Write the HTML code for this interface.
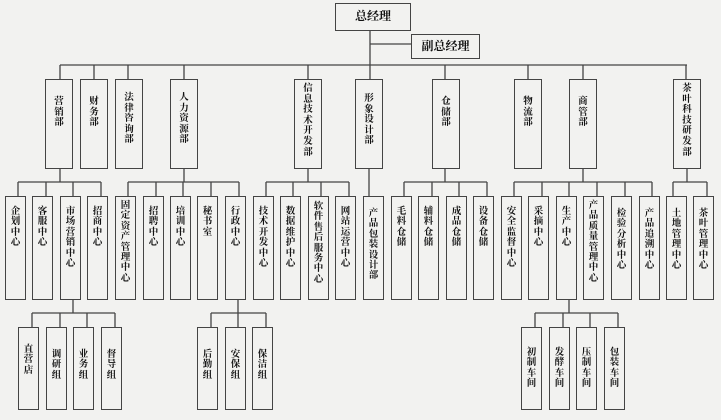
<!DOCTYPE html>
<html><head><meta charset="utf-8"><style>
body{margin:0;background:#f2f2f0;}
#c{position:relative;width:721px;height:420px;overflow:hidden;background:#f2f2f0;font-family:"Liberation Serif","Noto Serif CJK SC",serif;color:#111;}
svg{position:absolute;left:0;top:0}
.b{position:absolute;box-sizing:border-box;border:1.5px solid #444;background:#f2f2f0;font-size:9.5px;font-weight:bold;text-align:center;line-height:10.4px;word-break:break-all;padding-left:3px;padding-right:3px}
.h{position:absolute;box-sizing:border-box;border:1.5px solid #444;background:#f2f2f0;font-size:12px;font-weight:bold;text-align:center}
.l1{top:79px;height:90px;width:28px;padding-top:12px;padding-left:6px;padding-right:6px;line-height:10.6px}
.l2{top:196px;height:104px;width:21px;padding-top:10px}
.l3{top:327px;height:83px;width:21px;padding-top:17px}
</style></head><body><div id="c">
<svg width="721" height="420" stroke="#444" stroke-width="1.3" fill="none">
<path d="M370 31V79M370 44H411M60 65H687"/>
<path d="M60 65V79M94 65V79M128 65V79M184 65V79M308 65V79M445 65V79M528 65V79M583 65V79M686 65V79"/>
<path d="M60 168V182M18 182H101M18 182V196M46 182V196M73 182V196M101 182V196"/>
<path d="M184 168V182M128 182H239M128 182V196M156 182V196M183 182V196M211 182V196M239 182V196"/>
<path d="M308 168V182M266 182H349M266 182V196M293 182V196M321 182V196M349 182V196"/>
<path d="M369 168V196"/>
<path d="M445 168V182M404 182H487M404 182V196M432 182V196M459 182V196M487 182V196"/>
<path d="M583 168V182M514 182H652M514 182V196M542 182V196M569 182V196M597 182V196M625 182V196M652 182V196"/>
<path d="M687 168V182M673 182H707M673 182V196M707 182V196"/>
<path d="M73 299V313M32 313H115M32 313V327M60 313V327M87 313V327M115 313V327"/>
<path d="M238 299V313M211 313H266M211 313V327M238 313V327M266 313V327"/>
<path d="M569 299V313M535 313H618M535 313V327M563 313V327M590 313V327M618 313V327"/>
</svg>
<div class="h" style="left:335px;top:3px;width:76px;height:28px;line-height:25px">总经理</div>
<div class="h" style="left:411px;top:34px;width:69px;height:25px;line-height:22px">副总经理</div>

<div class="b l1" style="left:45px;padding-top:17px">营销部</div>
<div class="b l1" style="left:80px;padding-top:17px">财务部</div>
<div class="b l1" style="left:115px;padding-top:13px">法律咨询部</div>
<div class="b l1" style="left:170px;padding-top:13px">人力资源部</div>
<div class="b l1" style="left:294px;padding-top:4px">信息技术开发部</div>
<div class="b l1" style="left:355px;padding-top:14px">形象设计部</div>
<div class="b l1" style="left:432px;padding-top:17px">仓储部</div>
<div class="b l1" style="left:514px;padding-top:17px">物流部</div>
<div class="b l1" style="left:569px;padding-top:17px">商管部</div>
<div class="b l1" style="left:673px;padding-top:4px">茶叶科技研发部</div>

<div class="b l2" style="left:5px">企划中心</div>
<div class="b l2" style="left:32px">客服中心</div>
<div class="b l2" style="left:60px">市场营销中心</div>
<div class="b l2" style="left:87px">招商中心</div>
<div class="b l2" style="left:115px;padding-top:4px">固定资产管理中心</div>
<div class="b l2" style="left:143px">招聘中心</div>
<div class="b l2" style="left:170px">培训中心</div>
<div class="b l2" style="left:197px">秘书室</div>
<div class="b l2" style="left:225px">行政中心</div>
<div class="b l2" style="left:253px">技术开发中心</div>
<div class="b l2" style="left:280px">数据维护中心</div>
<div class="b l2" style="left:308px;padding-top:5px">软件售后服务中心</div>
<div class="b l2" style="left:335px">网站运营中心</div>
<div class="b l2" style="left:363px;padding-top:12px">产品包装设计部</div>
<div class="b l2" style="left:391px">毛料仓储</div>
<div class="b l2" style="left:418px">辅料仓储</div>
<div class="b l2" style="left:446px">成品仓储</div>
<div class="b l2" style="left:473px">设备仓储</div>
<div class="b l2" style="left:501px">安全监督中心</div>
<div class="b l2" style="left:528px">采摘中心</div>
<div class="b l2" style="left:556px">生产中心</div>
<div class="b l2" style="left:583px;padding-top:4px">产品质量管理中心</div>
<div class="b l2" style="left:611px;padding-top:12px">检验分析中心</div>
<div class="b l2" style="left:639px;padding-top:12px">产品追溯中心</div>
<div class="b l2" style="left:666px;padding-top:12px">土地管理中心</div>
<div class="b l2" style="left:693px;padding-top:12px">茶叶管理中心</div>

<div class="b l3" style="left:18px">直营店</div>
<div class="b l3" style="left:46px;padding-top:22px">调研组</div>
<div class="b l3" style="left:73px;padding-top:22px">业务组</div>
<div class="b l3" style="left:101px;padding-top:22px">督导组</div>
<div class="b l3" style="left:197px;padding-top:22px">后勤组</div>
<div class="b l3" style="left:225px;padding-top:22px">安保组</div>
<div class="b l3" style="left:252px;padding-top:22px">保洁组</div>
<div class="b l3" style="left:521px;padding-top:20px">初制车间</div>
<div class="b l3" style="left:549px;padding-top:20px">发酵车间</div>
<div class="b l3" style="left:576px;padding-top:20px">压制车间</div>
<div class="b l3" style="left:604px;padding-top:20px">包装车间</div>
</div></body></html>
